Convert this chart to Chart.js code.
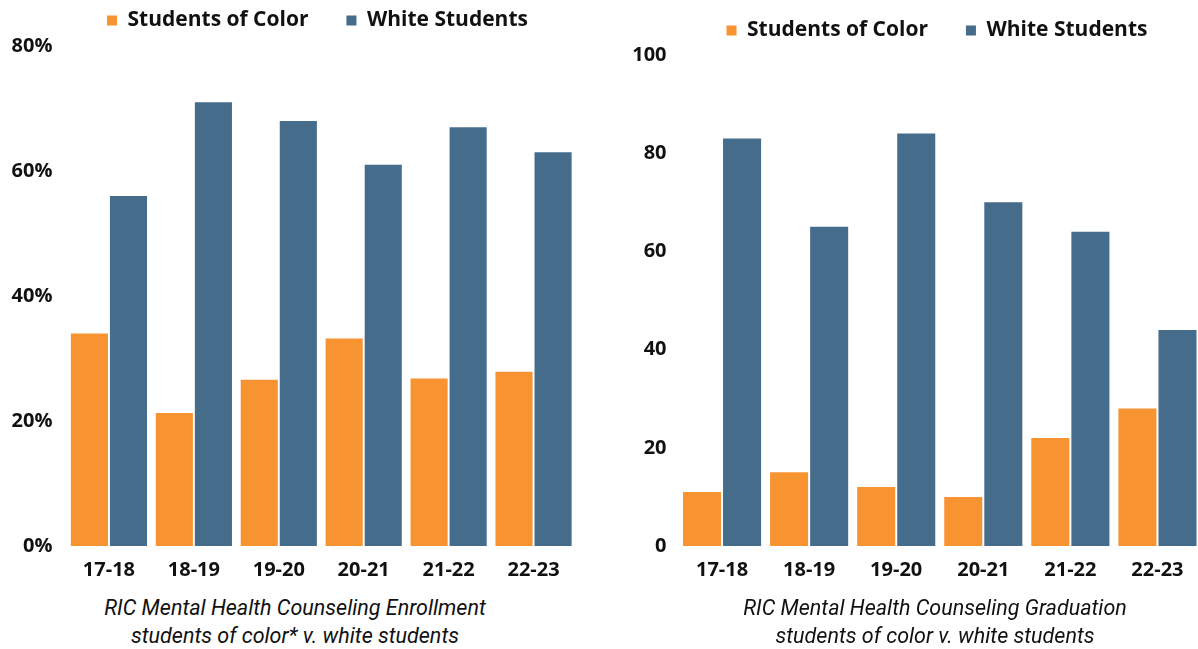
<!DOCTYPE html>
<html>
<head>
<meta charset="utf-8">
<script src="https://cdn.jsdelivr.net/npm/chart.js@4.4.1/dist/chart.umd.min.js"></script>
<style>
  html, body { margin: 0; padding: 0; background: #fff; }
  body { width: 1198px; height: 649px; overflow: hidden; position: relative; }
  .box { position: absolute; top: -28px; height: 620px; }
  #leftBox { left: 0; width: 632px; }
  #rightBox { left: 610px; width: 654px; }
  .caption {
    position: absolute; top: 594px; width: 520px; text-align: center;
    font-family: Roboto, sans-serif; font-style: italic; font-size: 21.5px;
    line-height: 28px; color: #111;
  }
</style>
</head>
<body>
<div id="leftBox" class="box"><canvas id="enroll"></canvas></div>
<div id="rightBox" class="box"><canvas id="grad"></canvas></div>
<div class="caption" style="left:35px">RIC Mental Health Counseling Enrollment<br>students of color* v. white students</div>
<div class="caption" style="left:675px">RIC Mental Health Counseling Graduation<br>students of color v. white students</div>
<script>
const years = ['17-18', '18-19', '19-20', '20-21', '21-22', '22-23'];
const seriesNames = ['Students of Color', 'White Students'];

// enrollment share, percent
const enrollColor = [34.0, 21.3, 26.6, 33.2, 26.8, 27.9];
const enrollWhite = [56, 71, 68, 61, 67, 63];

// graduates, count
const gradColor = [11, 15, 12, 10, 22, 28];
const gradWhite = [83, 65, 84, 70, 64, 44];

const ORANGE = '#F89332';
const BLUE = '#466C8C';
const tickFont = { family: "'Open Sans', sans-serif", size: 20, weight: 'bold' };

// extra gap under the legend, and a sideways nudge so it sits like the original
const legendTweak = {
  id: 'legendTweak',
  beforeInit(chart, args, opts) {
    const fit = chart.legend.fit;
    chart.legend.fit = function () {
      fit.call(this);
      this.height += opts.extra || 0;
    };
  },
  afterLayout(chart, args, opts) {
    chart.legend.left += opts.dx || 0;
    chart.legend.right += opts.dx || 0;
  },
};

function makeChart(el, colorVals, whiteVals, opts) {
  return new Chart(el, {
    type: 'bar',
    data: {
      labels: years,
      datasets: [
        { label: seriesNames[0], data: colorVals, backgroundColor: ORANGE },
        { label: seriesNames[1], data: whiteVals, backgroundColor: BLUE },
      ],
    },
    plugins: [legendTweak],
    options: {
      animation: false,
      responsive: true,
      maintainAspectRatio: false,
      datasets: { bar: { categoryPercentage: 0.92, barPercentage: 0.95 } },
      layout: { padding: { top: opts.padTop, right: opts.padRight, left: 0, bottom: 0 } },
      plugins: {
        tooltip: { enabled: false },
        legendTweak: { extra: opts.gap, dx: opts.legendDx },
        legend: {
          labels: {
            color: '#111',
            boxWidth: 10,
            boxHeight: 10,
            padding: 38,
            font: { family: "'Open Sans', sans-serif", size: 21, weight: 'bold' },
          },
        },
      },
      scales: {
        x: {
          grid: { display: false },
          border: { display: false },
          ticks: { color: '#111', font: tickFont, padding: 4 },
          afterFit: (s) => { s.height = 46; },
        },
        y: {
          min: 0,
          max: opts.max,
          grid: { display: false },
          border: { display: false },
          ticks: {
            stepSize: 20,
            color: '#111',
            font: tickFont,
            padding: opts.tickPad,
            callback: opts.fmt,
          },
          afterFit: (s) => { s.width = opts.axisW; },
        },
      },
    },
  });
}

makeChart(document.getElementById('enroll'), enrollColor, enrollWhite, {
  max: 80, padTop: 0, padRight: 56, axisW: 66.5, tickPad: 6, gap: 5, legendDx: 29.5,
  fmt: (v) => v + '%',
});

makeChart(document.getElementById('grad'), gradColor, gradWhite, {
  max: 100, padTop: 10, padRight: 63, axisW: 68.5, tickPad: 4, gap: 4, legendDx: 31.5,
  fmt: (v) => v,
});
</script>
</body>
</html>
